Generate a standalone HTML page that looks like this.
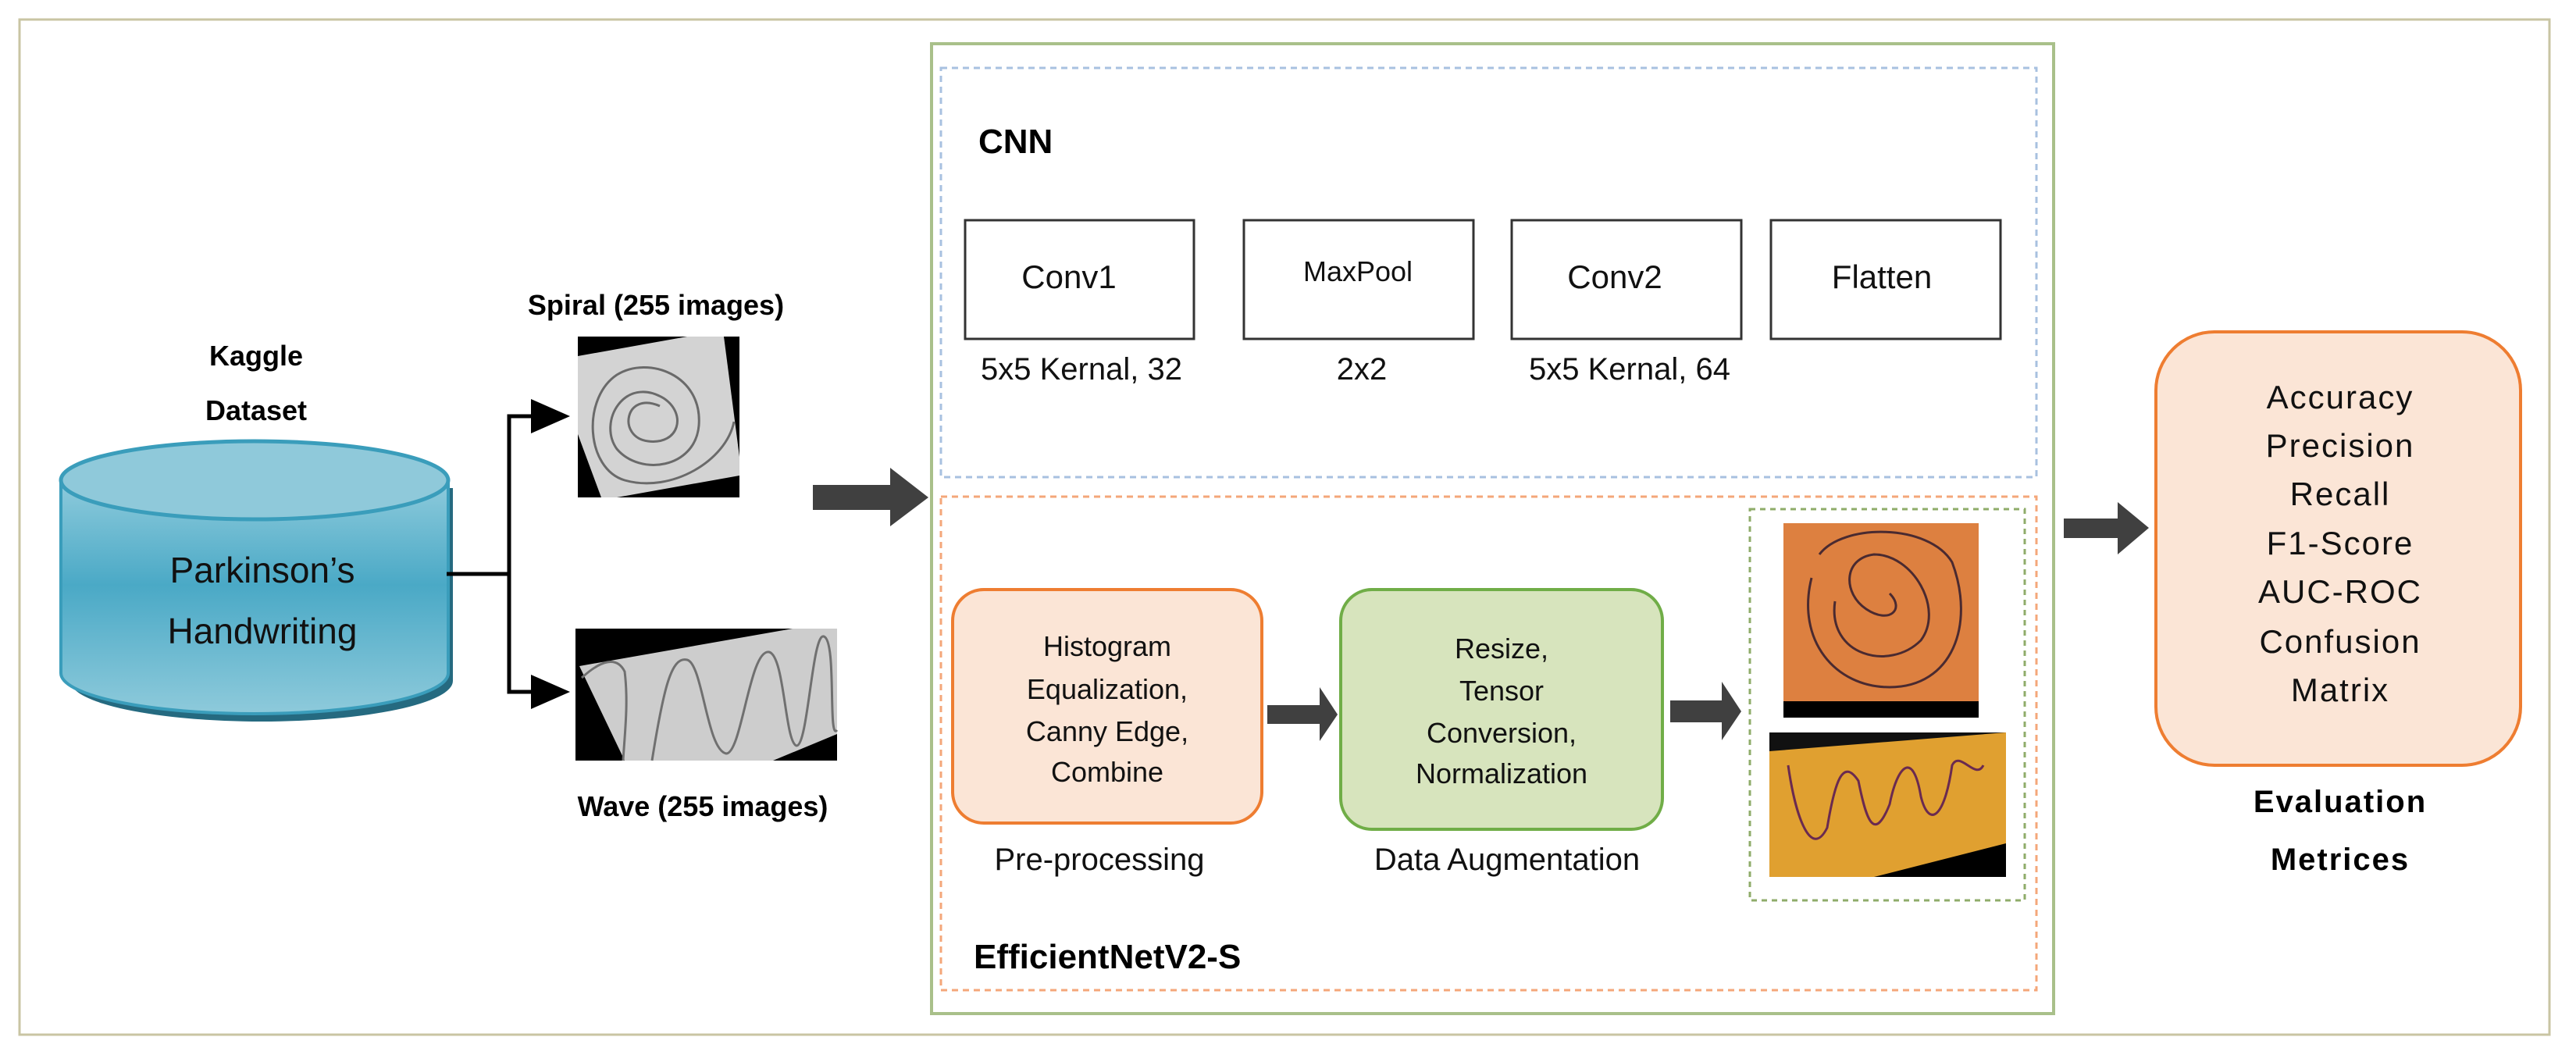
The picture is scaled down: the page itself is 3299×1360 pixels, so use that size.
<!DOCTYPE html>
<html><head><meta charset="utf-8"><style>html,body{margin:0;padding:0;background:#fff}svg{display:block}text{font-family:"Liberation Sans",sans-serif}</style></head>
<body>
<svg width="3299" height="1360" viewBox="0 0 3299 1360" xmlns="http://www.w3.org/2000/svg">
<defs>
<linearGradient id="cyl" x1="0" y1="0" x2="0" y2="1">
<stop offset="0" stop-color="#8fcbdc"/><stop offset="0.45" stop-color="#4aa9c6"/><stop offset="1" stop-color="#8ecadb"/></linearGradient>
</defs>
<rect x="25" y="25" width="3240" height="1300" fill="#fff" stroke="#c9c5a3" stroke-width="3"/>
<!-- Cylinder -->
<path d="M90 625 L90 872 A245 52 0 0 0 580 872 L580 625 Z" fill="#256a80"/>
<path d="M78 615 L78 862 A248 52 0 0 0 574 862 L574 615 Z" fill="url(#cyl)" stroke="#3a9dbb" stroke-width="4"/>
<ellipse cx="326" cy="615" rx="248" ry="50" fill="#8fc9da" stroke="#3a9dbb" stroke-width="5"/>
<text x="336" y="746" font-size="46" text-anchor="middle" fill="#111">Parkinson’s</text>
<text x="336" y="824" font-size="46" text-anchor="middle" fill="#111">Handwriting</text>
<text x="328" y="468" font-size="36" font-weight="bold" text-anchor="middle">Kaggle</text>
<text x="328" y="538" font-size="36" font-weight="bold" text-anchor="middle">Dataset</text>
<!-- connector -->
<polyline points="572,735 652,735" stroke="#000" stroke-width="5" fill="none"/>
<polyline points="652,735 652,533 690,533" stroke="#000" stroke-width="5" fill="none"/>
<polyline points="652,735 652,886 690,886" stroke="#000" stroke-width="5" fill="none"/>
<polygon points="680,511 730,533 680,555" fill="#000"/>
<polygon points="680,864 730,886 680,908" fill="#000"/>
<!-- spiral image -->
<text x="840" y="403" font-size="36" font-weight="bold" text-anchor="middle">Spiral (255 images)</text>
<rect x="740" y="431" width="207" height="206" fill="#000"/>
<polygon points="740,456 880,431 927,431 947,585 947,609 790,637 770,637 740,556" fill="#d3d3d3"/>
<g fill="none" stroke="#6a6a6a" stroke-width="3">
<path d="M845 520 C800 500 790 560 830 565 C870 570 880 530 850 510 C800 480 765 540 790 575 C820 610 890 600 895 545 C900 480 830 455 790 480 C745 510 750 600 800 615 C860 632 930 590 940 540"/>
</g>
<!-- wave image -->
<rect x="737" y="805" width="335" height="169" fill="#000"/>
<polygon points="742,853 1015,805 1072,805 1072,940 990,974 800,974" fill="#cdcdcd"/>
<path d="M745 868 C770 845 790 840 800 860 C805 900 800 940 798 974 M835 974 C850 880 860 840 880 845 C900 850 905 960 930 965 C950 965 960 830 985 835 C1005 840 1005 950 1020 955 C1035 955 1040 810 1055 815 C1072 820 1060 950 1072 935" fill="none" stroke="#707070" stroke-width="3"/>
<text x="900" y="1045" font-size="36" font-weight="bold" text-anchor="middle">Wave (255 images)</text>
<!-- big arrow -->
<polygon points="1041,621 1140,621 1140,599 1189,637 1140,674 1140,653 1041,653" fill="#404040"/>
<!-- green frame -->
<rect x="1193" y="56" width="1437" height="1242" fill="none" stroke="#a9c08a" stroke-width="4"/>
<rect x="1205" y="87" width="1403" height="524" fill="none" stroke="#a8c1e0" stroke-width="3" stroke-dasharray="8,6"/>
<rect x="1205" y="636" width="1403" height="632" fill="none" stroke="#f4a77a" stroke-width="3" stroke-dasharray="8,6"/>
<text x="1253" y="196" font-size="44" font-weight="bold">CNN</text>
<g fill="#fff" stroke="#333" stroke-width="3">
<rect x="1236" y="282" width="293" height="152"/>
<rect x="1593" y="282" width="294" height="152"/>
<rect x="1936" y="282" width="294" height="152"/>
<rect x="2268" y="282" width="294" height="152"/>
</g>
<g font-size="42" text-anchor="middle" fill="#111">
<text x="1369" y="369">Conv1</text>
<text x="1739" y="360" font-size="36">MaxPool</text>
<text x="2068" y="369">Conv2</text>
<text x="2410" y="369">Flatten</text>
<text x="1385" y="486" font-size="40">5x5 Kernal, 32</text>
<text x="1744" y="486" font-size="40">2x2</text>
<text x="2087" y="486" font-size="40">5x5 Kernal, 64</text>
</g>
<!-- EfficientNet -->
<rect x="1220" y="755" width="396" height="299" rx="40" fill="#fbe5d6" stroke="#ee7d31" stroke-width="4"/>
<rect x="1717" y="755" width="412" height="307" rx="40" fill="#d7e4bd" stroke="#70ad47" stroke-width="4"/>
<g font-size="36" text-anchor="middle" fill="#111">
<text x="1418" y="840">Histogram</text>
<text x="1418" y="895">Equalization,</text>
<text x="1418" y="949">Canny Edge,</text>
<text x="1418" y="1001">Combine</text>
<text x="1923" y="843">Resize,</text>
<text x="1923" y="897">Tensor</text>
<text x="1923" y="951">Conversion,</text>
<text x="1923" y="1003">Normalization</text>
<text x="1408" y="1114" font-size="40">Pre-processing</text>
<text x="1930" y="1114" font-size="40">Data Augmentation</text>
</g>
<text x="1247" y="1240" font-size="44" font-weight="bold">EfficientNetV2-S</text>
<polygon points="1623,903 1690,903 1690,880 1713,915 1690,949 1690,927 1623,927" fill="#404040"/>
<polygon points="2139,897 2205,897 2205,873 2230,911 2205,948 2205,925 2139,925" fill="#404040"/>
<!-- image box -->
<rect x="2241" y="652" width="352" height="501" fill="none" stroke="#8fac6a" stroke-width="3" stroke-dasharray="7,6"/>
<rect x="2284" y="670" width="250" height="228" fill="#dd8040"/>
<rect x="2284" y="898" width="250" height="21" fill="#000"/>
<path d="M2320 740 C2300 820 2350 880 2420 880 C2500 880 2530 800 2500 720 C2470 670 2360 670 2330 710 M2350 770 C2340 840 2420 860 2460 820 C2490 780 2450 710 2400 710 C2360 715 2360 760 2390 780 C2420 800 2440 780 2420 760" fill="none" stroke="#4a2a30" stroke-width="3"/>
<rect x="2266" y="938" width="303" height="185" fill="#e0a030"/>
<polygon points="2400,1123 2569,1080 2569,1123" fill="#000"/>
<polygon points="2266,938 2569,938 2266,962" fill="#111"/>
<path d="M2290 980 C2300 1050 2320 1100 2340 1060 C2350 1000 2360 970 2380 1000 C2390 1050 2400 1080 2420 1030 C2430 980 2450 960 2460 1020 C2470 1060 2490 1050 2500 980 C2510 960 2530 1000 2540 980" fill="none" stroke="#6a2a50" stroke-width="3"/>
<!-- right arrow -->
<polygon points="2643,664 2712,664 2712,643 2752,676 2712,710 2712,689 2643,689" fill="#404040"/>
<!-- eval box -->
<rect x="2761" y="425" width="467" height="555" rx="75" fill="#fbe5d6" stroke="#ee7d31" stroke-width="4"/>
<g font-size="42" text-anchor="middle" fill="#111" letter-spacing="2">
<text x="2997" y="523">Accuracy</text>
<text x="2997" y="585">Precision</text>
<text x="2997" y="647">Recall</text>
<text x="2997" y="710">F1-Score</text>
<text x="2997" y="772">AUC-ROC</text>
<text x="2997" y="836">Confusion</text>
<text x="2997" y="898">Matrix</text>
</g>
<text x="2997" y="1040" font-size="40" font-weight="bold" text-anchor="middle" letter-spacing="2">Evaluation</text>
<text x="2997" y="1114" font-size="40" font-weight="bold" text-anchor="middle" letter-spacing="2">Metrices</text>
</svg>
</body></html>
